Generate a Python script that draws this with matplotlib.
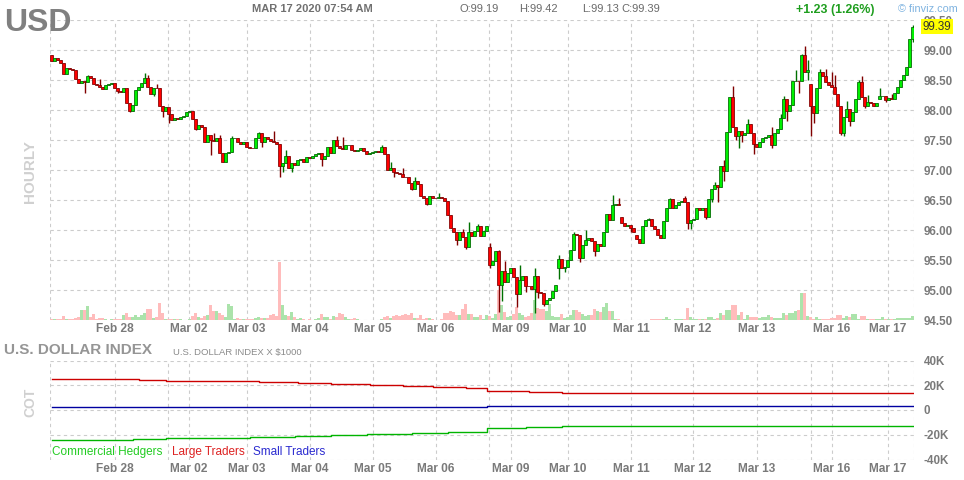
import matplotlib
matplotlib.use('Agg')
import matplotlib.pyplot as plt
import numpy as np
from matplotlib.transforms import blended_transform_factory

plt.rcParams['font.family'] = ['Liberation Sans', 'DejaVu Sans']

# ---------------- data ----------------
closes = [
    98.82, 98.86, 98.84, 98.78, 98.60, 98.70, 98.69, 98.66, 98.51, 98.45,
    98.48, 98.47, 98.56, 98.53, 98.43, 98.42, 98.39, 98.35, 98.42, 98.44,
    98.45, 98.36, 98.31, 98.30, 98.37, 98.11, 97.99, 98.09, 98.34, 98.38,
    98.45, 98.53, 98.38, 98.27, 98.37, 98.36, 98.06, 97.98, 98.05, 97.93,
    97.83, 97.87, 97.85, 97.88, 97.90, 97.97, 97.99, 97.85, 97.69, 97.75,
    97.71, 97.47, 97.58, 97.50, 97.48, 97.54, 97.28, 97.13, 97.29, 97.30,
    97.53, 97.54, 97.46, 97.43, 97.46, 97.38, 97.37, 97.36, 97.53, 97.62,
    97.47, 97.55, 97.51, 97.49, 97.46, 97.43, 97.07, 97.11, 97.23, 97.04,
    97.11, 97.08, 97.17, 97.18, 97.13, 97.21, 97.20, 97.24, 97.27, 97.28,
    97.18, 97.24, 97.38, 97.29, 97.50, 97.40, 97.36, 97.35, 97.41, 97.42,
    97.34, 97.31, 97.33, 97.36, 97.32, 97.27, 97.29, 97.30, 97.32, 97.30,
    97.38, 97.27, 97.00, 97.03, 96.96, 96.95, 96.94, 96.89, 96.88, 96.78,
    96.69, 96.81, 96.77, 96.56, 96.53, 96.44, 96.56, 96.54, 96.53, 96.55,
    96.54, 96.49, 96.25, 96.04, 95.96, 95.83, 95.96, 95.89, 95.71, 95.97,
    95.90, 95.99, 96.07, 95.90, 95.99, 96.06, 95.42, 95.48, 95.65, 95.08,
    95.32, 95.13, 95.28, 95.36, 95.22, 94.94, 95.17, 95.24, 95.07, 95.06,
    95.01, 95.23, 94.96, 94.95, 94.77, 94.84, 94.86, 94.98, 95.08, 95.52,
    95.36, 95.38, 95.50, 95.66, 95.93, 95.91, 95.54, 95.75, 95.84, 95.86,
    95.81, 95.65, 95.76, 95.73, 95.97, 96.27, 96.17, 96.41, 96.44, 96.41,
    96.11, 96.06, 96.09, 96.04, 95.97, 95.85, 95.79, 96.07, 96.17, 96.18,
    96.07, 96.02, 95.92, 95.87, 96.15, 96.36, 96.51, 96.37, 96.42, 96.46,
    96.48, 96.46, 96.11, 96.16, 96.18, 96.36, 96.34, 96.37, 96.22, 96.52,
    96.68, 96.75, 96.72, 97.06, 96.99, 97.63, 98.22, 97.72, 97.57, 97.65,
    97.58, 97.61, 97.76, 97.61, 97.44, 97.39, 97.46, 97.53, 97.55, 97.59,
    97.42, 97.61, 97.68, 97.87, 98.18, 97.98, 98.09, 98.48, 98.49, 98.48,
    98.92, 98.64, 98.67, 98.07, 97.95, 98.36, 98.63, 98.56, 98.47, 98.42,
    98.39, 98.26, 98.06, 97.61, 97.89, 98.02, 97.81, 97.97, 98.19, 98.47,
    98.22, 98.06, 98.14, 98.12, 98.07, 98.11, 98.24, 98.24, 98.16, 98.20,
    98.18, 98.28, 98.39, 98.50, 98.58, 98.71, 99.19, 99.39,
]
first_open = 98.92
# bars whose open differs from the previous close (session gaps), 0-based bar number
gap_opens = {146: 95.72, 169: 95.36, 190: 96.21, 195: 95.92, 211: 96.54,
             253: 98.44, 276: 98.19}
# wick extremes (0-based bar number)
high_marks = {
    12: 98.59, 16: 98.51, 31: 98.62, 32: 98.58, 35: 98.43, 39: 98.03,
    54: 97.61, 56: 97.58, 60: 97.57, 69: 97.64, 74: 97.65, 78: 97.33,
    95: 97.57, 97: 97.55, 110: 97.42, 113: 97.14, 117: 97.04, 121: 96.89,
    129: 96.62, 137: 96.02, 139: 96.14, 142: 96.10, 146: 95.79, 149: 95.67,
    151: 95.48, 156: 95.41, 161: 95.37, 169: 95.58, 174: 95.97, 178: 96.00,
    187: 96.58, 189: 96.54, 199: 96.20, 206: 96.53, 211: 96.57, 221: 96.80,
    224: 97.17, 227: 98.40, 232: 97.85, 240: 97.72, 243: 97.93, 244: 98.23,
    248: 98.67, 250: 98.94, 251: 99.07, 252: 98.83, 256: 98.68, 258: 98.68,
    260: 98.63, 261: 98.58, 265: 98.15, 269: 98.50, 270: 98.56, 272: 98.25,
    276: 98.36, 280: 98.26, 287: 99.42,
}
low_marks = {
    11: 98.28, 22: 98.28, 26: 97.96, 34: 98.24, 37: 97.89, 39: 97.78,
    48: 97.66, 53: 97.25, 70: 97.38, 76: 96.88, 77: 96.97, 80: 96.97,
    90: 97.06, 114: 96.89, 120: 96.67, 125: 96.42, 135: 95.75, 138: 95.69,
    146: 95.36, 149: 94.64, 150: 94.81, 155: 94.72, 158: 94.96, 161: 94.61,
    162: 94.86, 164: 94.74, 169: 95.18, 171: 95.30, 176: 95.46, 181: 95.57,
    185: 96.11, 193: 95.97, 212: 96.02, 213: 96.02, 218: 96.19, 220: 96.47,
    222: 96.47, 224: 96.82, 228: 97.50, 229: 97.37, 230: 97.47, 234: 97.27,
    240: 97.37, 245: 97.81, 249: 98.29, 252: 98.50, 253: 97.57, 254: 97.78,
    263: 97.58, 264: 97.57, 266: 97.74, 271: 98.03, 278: 98.13, 287: 99.13,
}
volumes = [
    2, 2, 2, 2, 11, 2, 2, 3, 5, 8, 29, 29, 41, 8, 17, 3, 5, 5, 2, 1,
    2, 2, 2, 3, 14, 20, 10, 8, 14, 8, 14, 22, 32, 32, 5, 8, 50, 20, 2, 2,
    2, 2, 2, 2, 1, 1, 3, 12, 20, 8, 5, 11, 14, 44, 26, 26, 20, 14, 8, 47,
    41, 2, 5, 2, 2, 2, 2, 2, 5, 8, 5, 5, 5, 14, 17, 11, 173, 44, 14, 11,
    23, 8, 2, 5, 2, 1, 2, 1, 3, 5, 17, 8, 8, 2, 11, 8, 20, 17, 8, 2,
    2, 5, 2, 1, 1, 1, 1, 1, 1, 1, 3, 8, 11, 5, 11, 14, 11, 14, 17, 14,
    20, 5, 5, 14, 2, 5, 5, 2, 1, 1, 2, 20, 20, 26, 23, 14, 14, 32, 47, 17,
    17, 8, 8, 14, 3, 14, 11, 5, 17, 90, 44, 23, 8, 11, 17, 38, 20, 14, 8, 11,
    20, 59, 35, 32, 32, 26, 47, 11, 8, 8, 17, 5, 8, 14, 29, 29, 23, 17, 11, 14,
    14, 32, 26, 23, 38, 50, 26, 26, 2, 2, 1, 1, 1, 1, 1, 1, 1, 1, 1, 1,
    2, 2, 2, 3, 3, 8, 2, 1, 2, 2, 2, 3, 35, 8, 2, 3, 2, 3, 3, 8,
    8, 3, 5, 20, 14, 29, 29, 44, 44, 14, 23, 2, 14, 8, 8, 8, 5, 8, 8, 14,
    8, 5, 5, 5, 20, 14, 20, 20, 26, 29, 80, 80, 11, 8, 2, 8, 2, 2, 3, 2,
    5, 5, 14, 14, 5, 11, 8, 17, 17, 3, 11, 11, 2, 3, 2, 2, 2, 8, 3, 2,
    2, 2, 5, 5, 5, 5, 5, 11,
]

day_labels = ['Feb 28', 'Mar 02', 'Mar 03', 'Mar 04', 'Mar 05', 'Mar 06', 'Mar 09',
              'Mar 10', 'Mar 11', 'Mar 12', 'Mar 13', 'Mar 16', 'Mar 17']
day_pos = [21.2, 45.8, 65.2, 86.2, 107.0, 128.2, 153.2, 172.0, 193.2, 213.8,
           235.2, 260.2, 278.8]
week_breaks = [38.8, 145.8, 253.2]

price_ticks = [94.5, 95.0, 95.5, 96.0, 96.5, 97.0, 97.5, 98.0, 98.5, 99.0, 99.5]

# COT positions (thousands of contracts), step changes at bar numbers
cot_large_bar = [0, 29, 38, 69, 82, 93, 106, 117, 127, 138, 145, 159, 170, 287.5]
cot_large_val = [25.1, 24.3, 23.5, 22.7, 21.9, 21.1, 20.3, 19.5, 18.7, 17.9, 15.0, 14.2, 13.4, 13.4]
cot_comm_bar = [0, 27, 38, 66, 81, 93, 105, 120, 132, 145, 158, 170, 287.5]
cot_comm_val = [-24.2, -23.4, -22.6, -21.8, -21.0, -20.2, -19.7, -18.9, -18.1, -14.9, -14.1, -13.3, -13.3]
cot_small_bar = [0, 145, 287.5]
cot_small_val = [2.7, 3.5, 3.5]
cot_ticks = [-40, -20, 0, 20, 40]
cot_tick_labels = ['-40K', '-20K', '0', '20K', '40K']

# ---------------- figure ----------------
W, H = 964, 480
fig = plt.figure(figsize=(W / 100, H / 100), dpi=100)
fig.patch.set_facecolor('white')


def rect(x0, y0, x1, y1):
    return [x0 / W, 1 - y1 / H, (x1 - x0) / W, (y1 - y0) / H]


GRID_C = '#cccccc'
DASH = (0, (3, 3))
LABEL_C = '#7a7a7a'

ax = fig.add_axes(rect(50, 20, 914, 320))
ax2 = fig.add_axes(rect(50, 360.5, 914, 459.5))

n = len(closes)
xs = np.arange(n)
c = np.array(closes)
o = np.array([first_open] + closes[:-1])
for i, v in gap_opens.items():
    o[i] = v
hi = np.array([high_marks.get(i, max(o[i], c[i])) for i in range(n)])
lo = np.array([low_marks.get(i, min(o[i], c[i])) for i in range(n)])
up = c >= o

# volume (axes-fraction heights)
vol_tr = blended_transform_factory(ax.transData, ax.transAxes)
vol = np.array(volumes) / 900.0
ax.bar(xs, vol, width=1.0, bottom=0, transform=vol_tr,
       color=np.where(up, '#abe3ab', '#ffbcbc'), linewidth=0, zorder=1)

# candles
ax.vlines(xs, lo, hi, colors=np.where(up, '#007000', '#800000'), linewidth=1.0, zorder=2)
ax.bar(xs, np.abs(c - o), bottom=np.minimum(o, c), width=0.78,
       color=np.where(up, '#00f000', '#ff0000'),
       edgecolor=np.where(up, '#006400', '#7a0000'), linewidth=0.55, zorder=3)

for a in (ax, ax2):
    a.set_xlim(-0.5, 287.5)
    for s in a.spines.values():
        s.set_visible(False)
    a.set_xticks(day_pos)
    a.set_xticklabels(day_labels)
    a.set_xticks(week_breaks, minor=True)
    a.set_axisbelow(True)
    a.grid(True, which='both', axis='x', color=GRID_C, linestyle=DASH, linewidth=0.8)
    a.grid(True, which='major', axis='y', color=GRID_C, linestyle=DASH, linewidth=0.8)
    a.axvline(-0.5, color=GRID_C, linestyle=DASH, linewidth=0.8, zorder=0)
    a.axvline(287.5, color=GRID_C, linestyle=DASH, linewidth=0.8, zorder=0)
    a.tick_params(which='both', length=0)
    a.tick_params(axis='x', pad=2.5, labelsize=8.6, labelcolor=LABEL_C)
    a.tick_params(axis='y', pad=7, labelsize=8.4, labelcolor=LABEL_C)
    a.yaxis.tick_right()
    for t in a.get_xticklabels() + a.get_yticklabels():
        t.set_fontweight('bold')

ax.set_ylim(94.5, 99.5)
ax.set_yticks(price_ticks)
ax.set_yticklabels([f'{v:.2f}' for v in price_ticks])

ax.annotate(f'{closes[-1]:.2f}', xy=(1.0, closes[-1]), xycoords=('axes fraction', 'data'),
            xytext=(6, 0), textcoords='offset points', ha='left', va='center',
            fontsize=8.4, color='#333333',
            bbox=dict(boxstyle='square,pad=0.15', fc='#ffff00', ec='none'), zorder=10)

# COT lines
ax2.set_ylim(-40, 40)
ax2.set_yticks(cot_ticks)
ax2.set_yticklabels(cot_tick_labels)
ax2.step(cot_large_bar, cot_large_val, where='post', color='#cc0000', linewidth=1.0)
ax2.step(cot_comm_bar, cot_comm_val, where='post', color='#00b400', linewidth=1.0)
ax2.step(cot_small_bar, cot_small_val, where='post', color='#0000a0', linewidth=1.0)


def ftext(x, y, s, **kw):
    fig.text(x / W, 1 - y / H, s, **kw)


ftext(4, 31, 'USD', fontsize=23, fontweight='bold', color='#808080', va='baseline')
ftext(252, 9.5, 'MAR 17 2020 07:54 AM', fontsize=8, fontweight='bold', color='#707070', va='center')
ftext(459, 9.5, 'O:99.19', fontsize=8, color='#6a6a6a', va='center')
ftext(519, 9.5, 'H:99.42', fontsize=8, color='#6a6a6a', va='center')
ftext(582, 9.5, 'L:99.13', fontsize=8, color='#6a6a6a', va='center')
ftext(621, 9.5, 'C:99.39', fontsize=8, color='#6a6a6a', va='center')
ftext(796, 9.5, '+1.23 (1.26%)', fontsize=8.9, fontweight='bold', color='#1f9e1f', va='center')
ftext(898, 8.5, '© finviz.com', fontsize=7.8, color='#7fb3e0', va='center')
ftext(30, 172, 'HOURLY', fontsize=11, fontweight='bold', color='#d0d0d0',
      rotation=90, ha='center', va='center')
ftext(4, 350, 'U.S. DOLLAR INDEX', fontsize=11, fontweight='bold', color='#959595', va='center')
ftext(173, 352, 'U.S. DOLLAR INDEX X $1000', fontsize=6.8, color='#8a8a8a', va='center')
ftext(30, 402, 'COT', fontsize=10, fontweight='bold', color='#d0d0d0',
      rotation=90, ha='center', va='center')
ftext(52, 452, 'Commercial Hedgers', fontsize=8.5, color='#22cc22', va='center')
ftext(172, 452, 'Large Traders', fontsize=8.5, color='#dd2222', va='center')
ftext(253, 452, 'Small Traders', fontsize=8.5, color='#2a2ad0', va='center')

fig.savefig('out.png', dpi=100, facecolor='white')
